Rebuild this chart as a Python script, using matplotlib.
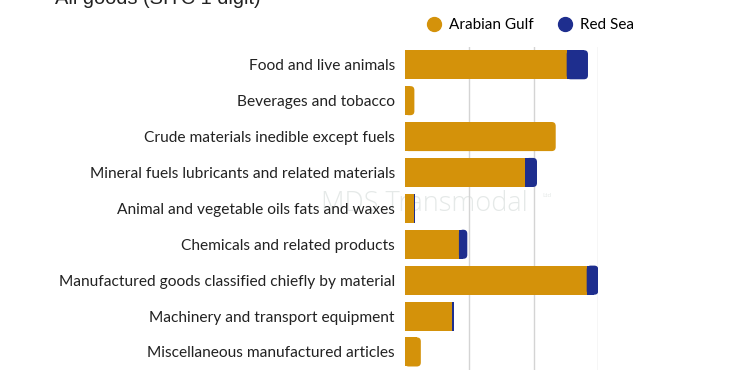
import matplotlib
matplotlib.use("Agg")
import matplotlib.pyplot as plt
from matplotlib.lines import Line2D
from matplotlib.patches import FancyBboxPatch, Rectangle

categories = [
    "Food and live animals",
    "Beverages and tobacco",
    "Crude materials inedible except fuels",
    "Mineral fuels lubricants and related materials",
    "Animal and vegetable oils fats and waxes",
    "Chemicals and related products",
    "Manufactured goods classified chiefly by material",
    "Machinery and transport equipment",
    "Miscellaneous manufactured articles",
]
arabian_gulf = [2.51, 0.15, 2.34, 1.87, 0.14, 0.84, 2.82, 0.74, 0.25]
red_sea = [0.33, 0.0, 0.0, 0.18, 0.025, 0.13, 0.18, 0.025, 0.0]

GULF = "#D4920A"
RED = "#1E2E8E"

plt.rcParams["font.family"] = ["Lato", "DejaVu Sans"]

fig = plt.figure(figsize=(7.5, 3.75), dpi=100)
ax_w_px, ax_h_px = 598.3 - 404.7, 369.9 - 46.8
ax = fig.add_axes([404.7 / 750, 1 - 369.9 / 375, ax_w_px / 750, ax_h_px / 375])
ax.set_zorder(2)
ax.patch.set_alpha(0)

y = list(range(len(categories)))
h = 0.81
xmax = 3.0
ax.set_xlim(0, xmax)
ax.set_ylim(len(categories) - 0.5, -0.5)

gb = ax.barh(y, arabian_gulf, height=h, color=GULF, zorder=3)
rb = ax.barh(y, red_sea, left=arabian_gulf, height=h, color=RED, zorder=3)

# rounded right ends on the outer segment of each bar
x_per_px = xmax / ax_w_px
y_per_px = len(categories) / ax_h_px
rs = 4 * x_per_px
aspect = y_per_px / x_per_px
for g, r, pg, pr in zip(arabian_gulf, red_sea, gb.patches, rb.patches):
    outer = pr if r >= 2 * rs else (pg if r == 0 else None)
    if outer is None:
        continue
    x0, y0, w, hh = outer.get_x(), outer.get_y(), outer.get_width(), outer.get_height()
    col = outer.get_facecolor()
    outer.set_visible(False)
    ax.add_patch(FancyBboxPatch((x0, y0), w, hh, boxstyle=f"round,pad=0,rounding_size={rs}",
                                mutation_aspect=aspect, facecolor=col, edgecolor="none", zorder=3))
    ax.add_patch(Rectangle((x0, y0), w - rs, hh, facecolor=col, edgecolor="none", zorder=3))

ax.set_yticks(y)
ax.set_yticklabels(categories, fontsize=11.2, color="#222222")
ax.tick_params(axis="y", length=0, pad=7)
ax.set_xticks([1, 2, 3])
ax.tick_params(axis="x", length=0, labelbottom=False)
ax.grid(axis="x", color="#d4d4d4", linewidth=1, zorder=0)
for s in ax.spines.values():
    s.set_visible(False)

# watermark (behind the chart)
fig.text(321 / 750, 1 - 211 / 375, "MDS Transmodal", fontsize=19.5, color="#e5e9e8",
         va="baseline", ha="left", family="Open Sans", fontweight="light", zorder=0)
fig.text(542 / 750, 1 - 196 / 375, "Ltd", fontsize=4.5, color="#e5e9e8", va="center", ha="left", zorder=0)

# title (cut at top)
fig.text(55 / 750, 1 - 4 / 375, "All goods (SITC 1 digit)", fontsize=14.4, color="#222222",
         family="Liberation Sans", va="baseline", ha="left")

handles = [
    Line2D([], [], marker="o", linestyle="none", markersize=10, markerfacecolor=GULF, markeredgecolor=GULF),
    Line2D([], [], marker="o", linestyle="none", markersize=10, markerfacecolor=RED, markeredgecolor=RED),
]
fig.legend(handles, ["Arabian Gulf", "Red Sea"], loc="center left",
           bbox_to_anchor=(411 / 750, 1 - 25 / 375), ncol=2, frameon=False,
           fontsize=11, handletextpad=0.4, columnspacing=1.45, handlelength=1.2)

fig.savefig("out.png", dpi=100, facecolor="white")
